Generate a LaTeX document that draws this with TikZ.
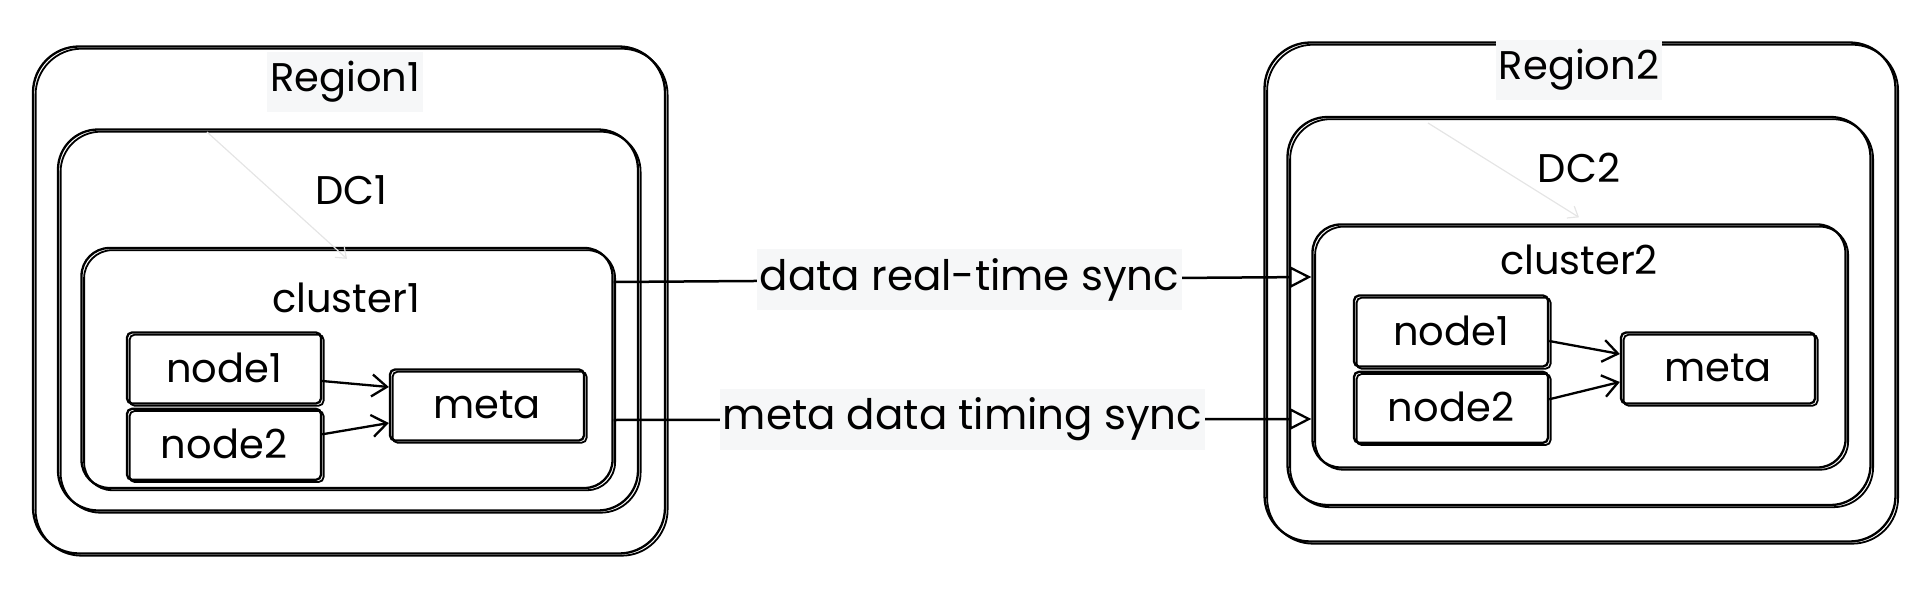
\documentclass[tikz,border=0pt]{standalone}
\usepackage{fontspec}
\setmainfont{Poppins}
\usetikzlibrary{positioning,arrows.meta}
\definecolor{labelbg}{RGB}{246,247,248}
\tikzset{
  sketch/.style={postaction={draw,line width=1.8pt,transform canvas={xshift=2.6pt,yshift=-2.2pt}}},
  regionbox/.style={draw,rounded corners=46pt,line width=2.3pt,sketch},
  dcbox/.style={draw,rounded corners=40pt,line width=2.3pt,sketch},
  clusterbox/.style={draw,rounded corners=28pt,line width=2.3pt,sketch},
  nodebox/.style={draw,rounded corners=5pt,line width=2.3pt,sketch,
    minimum width=194pt,minimum height=71pt,inner sep=0pt},
  title/.style={inner sep=0pt},
  lbl/.style={fill=labelbg,inner xsep=3pt,inner ysep=9pt,font=\fontsize{42}{50}\selectfont},
  link/.style={line width=2.3pt,-{Straight Barb[length=15pt,width=22pt,line width=2.3pt]}},
  sync/.style={line width=2.5pt,-{Triangle[open,length=22pt,width=22pt,line width=2.3pt]}},
  ghost/.style={black!10,line width=1.2pt,-{Straight Barb[length=9pt,width=14pt]}},
}
\begin{document}
\begin{tikzpicture}[x=1pt,y=-1pt,font=\fontsize{40}{48}\selectfont]
  \useasboundingbox (0,0) rectangle (1930,594);
  % left side
  \node[regionbox,minimum width=632pt,minimum height=507pt] (r1) at (349,300) {};
  \node[dcbox,minimum width=580pt,minimum height=381pt] (dc1) at (348,320) {};
  \node[clusterbox,minimum width=531pt,minimum height=240pt] (cl1) at (347,368) {};
  \node[title,fill=labelbg,inner xsep=3pt,inner ysep=9pt] (t1) at (345,82) {Region1};
  \node[title] (d1) at (351,190) {DC1};
  \node[title] (c1) at (346,298) {cluster1};
  \node[nodebox] (n1a) at (224,368) {node1};
  \node[nodebox,below=3pt of n1a] (n2a) {node2};
  \node[nodebox] (ma) at (487,405) {meta};
  \draw[link] ([yshift=-13pt]n1a.east) -- ([yshift=18pt]ma.west);
  \draw[link] ([yshift=10pt]n2a.east) -- ([yshift=-18pt]ma.west);
  \coordinate (g1) at (207,132);
  \draw[ghost] (g1) -- ([yshift=-12pt]cl1.north);
  % right side
  \node[regionbox,minimum width=631pt,minimum height=499pt] (r2) at (1580,292) {};
  \node[dcbox,minimum width=583pt,minimum height=388pt] (dc2) at (1579,311) {};
  \node[clusterbox,minimum width=533pt,minimum height=243pt] (cl2) at (1579,346) {};
  \node[title,fill=labelbg,inner xsep=3pt,inner ysep=9pt] (t2) at (1579,70) {Region2};
  \node[title] (d2) at (1579,168) {DC2};
  \node[title] (c2) at (1579,260) {cluster2};
  \node[nodebox] (n1b) at (1451,331) {node1};
  \node[nodebox,below=3pt of n1b] (n2b) {node2};
  \node[nodebox] (mb) at (1718,368) {meta};
  \draw[link] ([yshift=-10pt]n1b.east) -- ([yshift=14pt]mb.west);
  \draw[link] ([yshift=8pt]n2b.east) -- ([yshift=-14pt]mb.west);
  \coordinate (g2) at (1428,123);
  \draw[ghost] (g2) -- ([yshift=6pt]cl2.north);
  % links between the clusters
  \draw[sync] ([yshift=86pt]cl1.east) -- node[lbl,pos=0.51] (s1) {data real-time sync} ([yshift=69pt]cl2.west);
  \draw[sync] ([yshift=-52pt]cl1.east) -- node[lbl] (s2) {meta data timing sync} ([yshift=-73pt]cl2.west);
\end{tikzpicture}
\end{document}
